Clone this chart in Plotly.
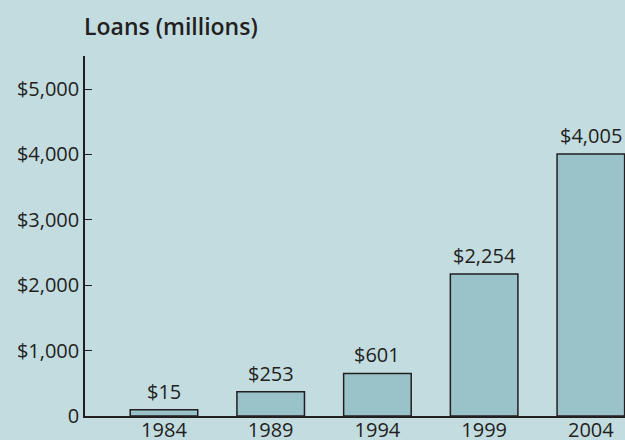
import plotly.graph_objects as go

years = ["1984", "1989", "1994", "1999", "2004"]
bar_heights = [95, 370, 650, 2170, 4005]          # bar heights as drawn in the picture
value_labels = ["$15", "$253", "$601", "$2,254", "$4,005"]
y_tick_vals = [0, 1000, 2000, 3000, 4000, 5000]
y_tick_text = ["0", "$1,000", "$2,000", "$3,000", "$4,000", "$5,000"]
title_text = "Loans (millions)"

BG = "#c2dce0"
BAR = "#99c3c9"
DARK = "#231f20"
FONT = "Open Sans"
FS = 20

fig = go.Figure()
fig.add_trace(go.Bar(
    x=years, y=bar_heights,
    marker=dict(color=BAR, line=dict(color=DARK, width=1.5)),
    hoverinfo="skip",
))

for i, (h, lab) in enumerate(zip(bar_heights, value_labels)):
    fig.add_annotation(x=i, y=h, text=lab, showarrow=False,
                       xanchor="center", yanchor="bottom", yshift=3,
                       font=dict(family=FONT, size=FS, color=DARK))

fig.add_annotation(xref="paper", yref="paper", x=0, y=1, xanchor="left", yanchor="bottom",
                   xshift=-3, yshift=12, text=title_text, showarrow=False,
                   font=dict(family=FONT, size=23, color=DARK, weight=600))

fig.update_layout(
    width=625, height=440,
    margin=dict(l=85, r=0, t=56, b=24),
    paper_bgcolor=BG, plot_bgcolor=BG,
    bargap=0.367,
    showlegend=False,
    font=dict(family=FONT, size=FS, color=DARK),
)
fig.update_xaxes(
    type="category", range=[-0.74, 4.32], automargin=False,
    showline=True, linecolor=DARK, linewidth=1.5,
    showgrid=False, zeroline=False, ticks="", ticklabelstandoff=-5,
    tickfont=dict(family=FONT, size=FS, color=DARK),
)
fig.update_yaxes(
    range=[0, 5505], automargin=False,
    tickvals=y_tick_vals, ticktext=y_tick_text,
    showline=True, linecolor=DARK, linewidth=1.5,
    ticks="inside", ticklen=7, tickwidth=1.2, tickcolor=DARK,
    showgrid=False, zeroline=False,
    tickfont=dict(family=FONT, size=FS, color=DARK),
)

fig.write_html("out.html", config={"displayModeBar": False},
               post_script="document.body.style.margin='0';document.body.style.overflow='hidden';")
